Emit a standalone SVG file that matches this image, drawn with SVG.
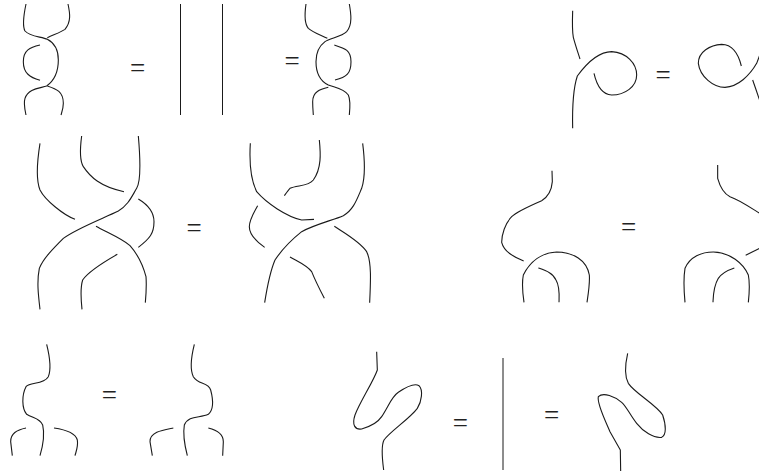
<svg xmlns="http://www.w3.org/2000/svg" width="759" height="474" viewBox="0 0 759 474">
<style>
path{fill:none;stroke:#1a1a1a;stroke-width:3.3;stroke-linecap:butt;stroke-linejoin:round}
.v{stroke-width:1;stroke:#1a1a1a;fill:none}
text{font-family:"Liberation Serif",serif;font-size:27px;fill:#222;text-anchor:middle}
</style>
<rect width="759" height="474" fill="#fff"/>
<g id="fig1" transform="scale(.33333)">
<path d="M78 12C70 50 68 80 75 93C90 110 125 110 142 118C165 130 175 150 175 180C175 215 165 240 140 258C120 265 85 265 75 295C70 310 75 330 78 345"/>
<path d="M204 12C210 40 214 65 195 88C180 98 160 104 142 113"/>
<path d="M120 135C90 142 70 150 70 185C70 220 90 232 120 241"/>
<path d="M142 258C170 267 190 275 190 310C190 325 186 335 183 345"/>
<path d="M918 12C914 40 912 70 925 85C940 98 965 106 982 115"/>
<path d="M1048 12C1053 40 1058 75 1040 95C1025 110 990 115 975 125C955 140 948 160 948 185C948 215 955 240 985 255C1005 263 1030 265 1045 285C1052 300 1050 325 1048 345"/>
<path d="M1003 135C1035 145 1053 150 1053 185C1053 220 1040 232 1005 240"/>
<path d="M985 262C960 268 938 275 938 305C938 320 939 332 940 345"/>
</g>
<path class="v" d="M180.5 4V115M222.5 4V115"/>
<text x="137.7" y="77">=</text>
<text x="292" y="70">=</text>
<g id="fig2" transform="translate(0 125) scale(.33333)">
<path d="M120 55C112 105 108 165 120 195C135 225 190 270 225 283"/>
<path d="M245 33C240 70 238 105 250 125C270 155 300 185 372 200"/>
<path d="M415 33C420 90 425 165 410 190C395 215 385 240 355 258C310 280 230 310 190 340C160 370 130 400 118 430C110 470 115 510 120 553"/>
<path d="M415 222C445 240 462 260 462 290C462 325 450 340 415 367"/>
<path d="M288 304C320 322 365 340 390 362C415 390 430 425 438 455C440 480 438 510 436 533"/>
<path d="M352 388C310 412 265 440 248 465C240 490 243 525 246 553"/>
<path d="M751 55C748 105 750 160 770 200C800 235 860 275 905 285L942 283"/>
<path d="M958 45C962 85 965 130 940 165C925 185 890 180 870 190C865 195 858 205 853 212"/>
<path d="M1088 55C1095 110 1095 160 1085 190C1070 225 1060 255 1030 272C1000 285 940 300 905 320C880 340 845 375 825 405C810 440 800 495 794 533"/>
<path d="M773 242C760 265 748 285 748 305C748 330 770 350 794 367"/>
<path d="M1003 304C1035 325 1080 350 1100 380C1115 410 1112 470 1109 533"/>
<path d="M870 396C890 408 920 420 935 440C945 465 960 495 973 520"/>
</g>
<text x="194" y="237">=</text>
<g id="fig3" transform="translate(480 0) scale(.33333)">
<path d="M278 32C277 60 276 90 280 112C286 135 293 155 300 177"/>
<path d="M278 385C277 340 278 270 292 228C320 190 355 155 395 155C440 158 470 190 470 225C470 260 435 285 395 285C365 283 350 255 342 220"/>
<path d="M784 198C775 160 755 133 725 133C690 135 655 155 655 190C660 230 700 262 735 262C775 260 810 225 830 190L845 150"/>
<path d="M818 240C825 260 832 280 842 310"/>
</g>
<text x="663" y="84">=</text>
<g id="fig4" transform="translate(480 155) scale(.33333)">
<path d="M216 47L217 80C215 105 205 125 185 137C155 150 110 170 95 185C75 205 65 240 65 262C72 290 100 305 131 318"/>
<path d="M132 442C128 415 125 385 130 360C150 320 185 293 230 291C280 292 320 315 328 360C330 385 325 415 321 442"/>
<path d="M175 339C200 348 220 355 228 375C240 395 238 420 237 442"/>
<path d="M713 30L713 70C720 95 730 115 750 125C780 135 815 160 845 179"/>
<path d="M797 301L845 277"/>
<path d="M615 442C612 410 610 370 615 340C630 305 665 291 700 291C750 292 790 325 805 360C810 385 808 415 805 442"/>
<path d="M763 339C745 345 725 355 715 370C700 395 700 420 699 442"/>
</g>
<text x="628.7" y="236">=</text>
<g id="fig5" transform="translate(0 335) scale(.33333)">
<path d="M140 28C148 60 155 100 145 125C130 150 90 140 78 155C65 180 65 220 80 238C100 250 120 250 128 270C135 300 128 335 120 362"/>
<path d="M78 279C50 285 32 295 32 320L37 362"/>
<path d="M162 279C190 283 225 290 232 315C235 335 228 350 225 362"/>
<path d="M583 28C575 60 568 100 580 125C595 150 625 140 632 165C640 195 640 225 625 238C600 250 565 240 553 270C548 300 555 335 562 362"/>
<path d="M520 279C490 285 450 290 450 320L457 362"/>
<path d="M625 279C650 285 670 295 670 320L668 362"/>
</g>
<text x="109.3" y="404">=</text>
<g id="fig6" transform="translate(340 345) scale(.33333)">
<path d="M110 20L112 75C100 110 60 170 45 210C35 240 45 255 65 252C90 245 115 230 125 215C145 185 155 155 175 142C200 125 225 115 237 122C250 135 245 170 232 190C210 220 150 260 132 285C122 305 127 345 131 375"/>
<path d="M863 25C855 60 852 90 865 115C885 145 950 180 968 210C978 240 980 270 965 277C940 280 910 260 890 235C870 210 860 185 845 172C825 155 790 140 775 155C770 175 795 225 810 260L841 315L842 378"/>
</g>
<path class="v" d="M503 358V470"/>
<text x="460.3" y="432">=</text>
<text x="551.7" y="424">=</text>
</svg>
